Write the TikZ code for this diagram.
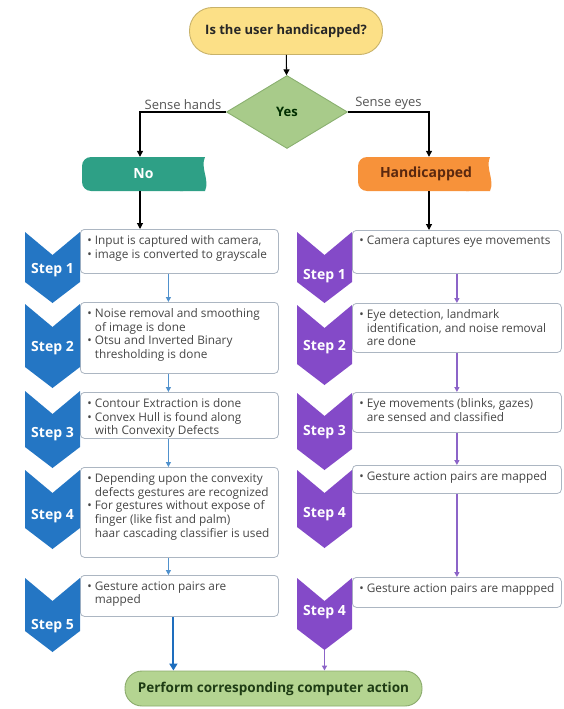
\documentclass[tikz,border=0pt]{standalone}
\usepackage{fontspec}
\setmainfont{Open Sans}
\usetikzlibrary{arrows.meta,shapes.geometric}
\definecolor{termY}{RGB}{252,224,135}
\definecolor{termYb}{RGB}{200,178,105}
\definecolor{diaF}{RGB}{168,203,138}
\definecolor{diaB}{RGB}{138,176,112}
\definecolor{tealF}{RGB}{46,160,134}
\definecolor{orngF}{RGB}{247,146,58}
\definecolor{orngT}{RGB}{90,40,15}
\definecolor{chB}{RGB}{36,118,196}
\definecolor{chP}{RGB}{132,74,200}
\definecolor{boxB}{RGB}{172,182,194}
\definecolor{perfF}{RGB}{180,212,145}
\definecolor{perfB}{RGB}{138,170,108}
\definecolor{perfT}{RGB}{30,60,20}
\definecolor{arrB}{RGB}{80,145,205}
\definecolor{arrBd}{RGB}{30,110,190}
\definecolor{arrP}{RGB}{140,100,200}
\definecolor{txtG}{RGB}{70,70,70}
\definecolor{lblG}{RGB}{85,85,85}
\newcommand\mychev[5]{%
  \fill[#1] (#2,#4) -- ({(#2+#3)/2},{#4+23}) -- (#3,#4) -- (#3,{#5-21})
    -- ({(#2+#3)/2},#5) -- (#2,{#5-21}) -- cycle;}
\newcommand\ind{\hphantom{•\ }}
\newcommand\boxtext[3]{\parbox[t][#2pt][t]{#1pt}{\vspace*{6pt}\raggedright\leftskip=7pt
  \fontsize{11.8}{13.8}\selectfont\color{txtG}#3}}
\tikzset{
  blk/.style={draw=black, line width=1.1pt, -{Triangle[length=6pt,width=6pt]}},
  larr/.style={draw=arrB, line width=1.1pt, -{Triangle[length=5pt,width=5pt]}},
  larrthick/.style={draw=arrBd, line width=2pt, -{Triangle[length=7pt,width=8pt]}},
  parr/.style={draw=arrP, line width=1.3pt, -{Triangle[length=5pt,width=5pt]}},
  sbox/.style={draw=boxB, fill=white, line width=0.8pt, rounded corners=4pt,
    inner sep=0pt, anchor=north west},
  steplbl/.style={text=white, font=\fontsize{14}{16}\selectfont\bfseries, inner sep=0pt},
  lbl/.style={text=lblG, font=\fontsize{13}{15}\selectfont, inner sep=1.5pt},
}
\begin{document}
\begin{tikzpicture}[x=1pt,y=-1pt]
\useasboundingbox (0,0) rectangle (563,709);
% top
\node[draw=termYb, fill=termY, line width=0.9pt, rounded corners=23pt,
  minimum width=193pt, minimum height=47pt, inner sep=0pt,
  font=\fontsize{13}{15}\selectfont\bfseries, text=black!85] (q) at (286,31) {Is the user handicapped?};
\node[diamond, draw=diaB, fill=diaF, line width=0.9pt, minimum width=121pt,
  minimum height=73pt, inner sep=0pt, text=black!70!green!60!black,
  font=\fontsize{13}{15}\selectfont\bfseries] (yes) at (287,112) {Yes};
% No box
\fill[tealF, rounded corners=9pt] (82,157) rectangle (192,191);
\fill[tealF] (180,157) -- (205,157) .. controls (200,168) and (210,180) .. (205,191) -- (180,191) -- cycle;
\node[minimum width=123pt, minimum height=34pt, inner sep=0pt, text=white,
  font=\fontsize{14}{16}\selectfont\bfseries] (no) at (143.5,174) {No};
% Handicapped box
\fill[orngF, rounded corners=9pt] (358,157) rectangle (478,191);
\fill[orngF] (466,157) -- (490,157) .. controls (485,168) and (495,180) .. (490,191) -- (466,191) -- cycle;
\node[minimum width=132pt, minimum height=34pt, inner sep=0pt, text=orngT,
  font=\fontsize{14}{16}\selectfont\bfseries] (hc) at (426,174) {Handicapped};
% top connectors
\draw[blk] (q) -- (yes);
\draw[blk] (yes.west) -| node[lbl, pos=0.25, above] (sh) {Sense hands} ([xshift=-3.5pt]no.north);
\draw[blk] (yes.east) -| node[lbl, pos=0.25, above] (se) {Sense eyes} ([xshift=3pt]hc.north);
% left boxes
\node[sbox] (l1) at (80,229) {\boxtext{198}{44}{• Input is captured with camera,\\• image is converted to grayscale}};
\node[sbox] (l2) at (80,302) {\boxtext{198}{71}{• Noise removal and smoothing\\\ind of image is done\\• Otsu and Inverted Binary\\\ind thresholding is done}};
\node[sbox] (l3) at (80,392) {\boxtext{198}{46}{• Contour Extraction is done\\• Convex Hull is found along\\\ind with Convexity Defects}};
\node[sbox] (l4) at (80,467) {\boxtext{198}{90}{• Depending upon the convexity\\\ind defects gestures are recognized\\• For gestures without expose of\\\ind finger (like fist and palm)\\\ind haar cascading classifier is used}};
\node[sbox] (l5) at (80,575) {\boxtext{198}{41}{• Gesture action pairs are\\\ind mapped}};
% right boxes
\node[sbox] (r1) at (352,230) {\boxtext{209}{43}{• Camera captures eye movements}};
\node[sbox] (r2) at (352,303) {\boxtext{209}{49}{• Eye detection, landmark\\\ind identification, and noise removal\\\ind are done}};
\node[sbox] (r3) at (352,392) {\boxtext{209}{40}{• Eye movements (blinks, gazes)\\\ind are sensed and classified}};
\node[sbox] (r4) at (352,465) {\boxtext{209}{28}{• Gesture action pairs are mapped}};
\node[sbox] (r5) at (352,577) {\boxtext{209}{30}{• Gesture action pairs are mappped}};
% left chevrons
\mychev{chB}{25}{80}{232}{303}
\mychev{chB}{25}{80}{304}{388}
\mychev{chB}{25}{80}{391}{468}
\mychev{chB}{25}{80}{470}{549}
\mychev{chB}{25}{80}{578}{652}
\node[steplbl] (c1) at (52.5,270) {Step 1};
\node[steplbl] (c2) at (52.5,348) {Step 2};
\node[steplbl] (c3) at (52.5,434) {Step 3};
\node[steplbl] (c4) at (52.5,516) {Step 4};
\node[steplbl] (c5) at (52.5,626) {Step 5};
% right chevrons
\mychev{chP}{297}{352}{232}{303}
\mychev{chP}{297}{352}{305}{385}
\mychev{chP}{297}{352}{393}{470}
\mychev{chP}{297}{352}{470}{548}
\mychev{chP}{297}{352}{578}{650}
\coordinate (d5tip) at (324.5,650);
\node[steplbl] (d1) at (324.5,276) {Step 1};
\node[steplbl] (d2) at (324.5,347) {Step 2};
\node[steplbl] (d3) at (324.5,432) {Step 3};
\node[steplbl] (d4) at (324.5,514) {Step 4};
\node[steplbl] (d5) at (324.5,612) {Step 4};
% perform
\node[draw=perfB, fill=perfF, line width=0.9pt, rounded corners=17pt,
  minimum width=297pt, minimum height=35pt, inner sep=0pt, text=perfT,
  font=\fontsize{13.5}{15}\selectfont\bfseries] (perf) at (273.5,688.5) {Perform corresponding computer action};
% connectors
\draw[blk] ([xshift=-3.5pt]no.south) -- ([xshift=-3.5pt]no.south |- l1.north);
\draw[blk] ([xshift=3pt]hc.south) -- ([xshift=3pt]hc.south |- r1.north);
\draw[larr] ([xshift=-11pt]l1.south) -- ([xshift=-11pt]l2.north);
\draw[larr] ([xshift=-11pt]l2.south) -- ([xshift=-11pt]l3.north);
\draw[larr] ([xshift=-11pt]l3.south) -- ([xshift=-11pt]l4.north);
\draw[larr] ([xshift=-11pt]l4.south) -- ([xshift=-11pt]l5.north);
\draw[larrthick] ([xshift=-6pt]l5.south) -- ([xshift=-6pt]l5.south |- perf.north);
\draw[parr] (r1.south) -- (r2.north);
\draw[parr] (r2.south) -- (r3.north);
\draw[parr] (r3.south) -- (r4.north);
\draw[parr] (r4.south) -- (r5.north);
\draw[parr] (d5tip) -- (d5tip |- perf.north);
\end{tikzpicture}
\end{document}
